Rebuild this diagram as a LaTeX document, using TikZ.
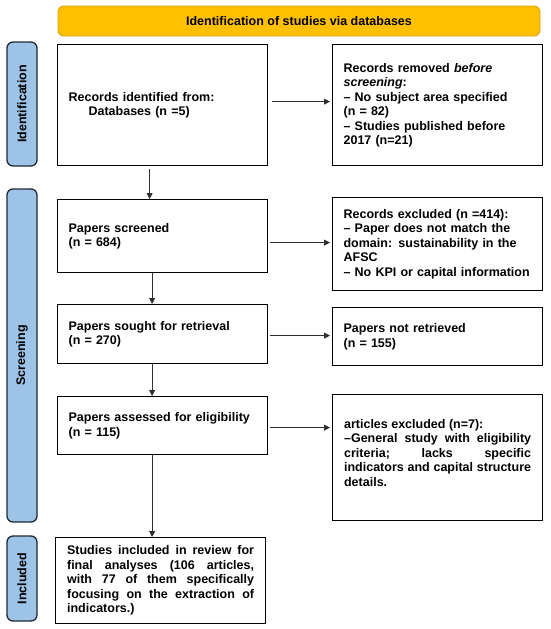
\documentclass[tikz,border=0pt]{standalone}
\usepackage{fontspec}
\setmainfont{Liberation Sans}
\usetikzlibrary{arrows.meta,positioning}
\definecolor{orangefill}{HTML}{FFC000}
\definecolor{orangeline}{HTML}{E0A000}
\definecolor{bluefill}{HTML}{9DC3E6}
\definecolor{blueline}{HTML}{1F2A33}
\definecolor{arrowcol}{HTML}{303030}
\begin{document}
\begin{tikzpicture}[x=1pt,y=-1pt,
  font=\fontsize{12.5}{14.5}\selectfont\bfseries,
  banner/.style={draw=orangeline,fill=orangefill,line width=0.9pt,rounded corners=6pt,
    minimum width=482pt,minimum height=30pt,inner sep=0pt},
  phase/.style={draw=blueline,fill=bluefill,line width=1.3pt,rounded corners=6pt,
    minimum height=30pt,inner sep=0pt,rotate=90},
  flowbox/.style={draw=black,line width=1.2pt,inner xsep=11pt,inner ysep=0pt,
    text width=188pt,align=left,anchor=north west},
  plainbox/.style={draw=black,line width=1.2pt,inner sep=0pt,minimum width=210pt,anchor=north west},
  jtext/.style={inner sep=0pt,text width=187pt,align=justify},
  arr/.style={draw=arrowcol,line width=0.8pt,-{Triangle[length=6pt,width=6pt]}}]
\useasboundingbox (0,0) rectangle (550,629);

% banner
\node[banner] (title) at (299,21) {Identification of studies via databases};

% phase labels
\node[phase,minimum width=124pt] (pid) at (22,104) {Identification};
\node[phase,minimum width=333pt] (psc) at (22,355.5) {Screening};
\node[phase,minimum width=85pt] (pin) at (22,578.5) {Included};

% left column
\node[flowbox,minimum height=121pt] (b1) at (57,44)
  {Records identified from:\\\hspace*{20pt}Databases (n =5)};
\node[flowbox,minimum height=73pt] (b2) at (57,199)
  {Papers screened\\(n = 684)};
\node[flowbox,minimum height=59pt] (b3) at (57,304)
  {Papers sought for retrieval\\(n = 270)};
\node[flowbox,minimum height=58pt] (b4) at (57,396)
  {Papers assessed for eligibility\\(n = 115)};
\node[plainbox,minimum height=86pt] (b5) at (55,537) {};
\node[jtext] (b5t) at (b5.center)
  {Studies included in review for\linebreak final analyses (106 articles,\linebreak with 77 of them specifically\linebreak focusing on the extraction of\linebreak indicators.)};

% right column
\node[flowbox,minimum height=121pt] (r1) at (332,44)
  {Records removed \textit{before}\\\textit{screening}:\\– No subject area specified\\(n = 82)\\– Studies published before\\2017 (n=21)};
\node[flowbox,minimum height=93pt] (r2) at (332,197)
  {Records excluded (n =414):\\– Paper does not match the\\domain: sustainability in the\\AFSC\\– No KPI or capital information};
\node[flowbox,minimum height=58pt] (r3) at (332,307)
  {Papers not retrieved\\(n = 155)};
\node[plainbox,minimum height=126pt] (r4) at (332,394) {};
\node[jtext] (r4t) at ([yshift=5pt]r4.center)
  {articles excluded (n=7):\newline –General study with eligibility\linebreak criteria;\hfill lacks\hfill specific\linebreak indicators and capital structure\linebreak details.};

% horizontal arrows
\draw[arr,shorten <=4pt,shorten >=2pt] ([yshift=3.5pt]b1.east) -- ([yshift=3.5pt]r1.west);
\draw[arr,shorten <=2pt,shorten >=2pt] ([yshift=-6.5pt]b2.east) -- ([yshift=1.5pt]r2.west);
\draw[arr,shorten <=2pt,shorten >=2pt] ([yshift=-1.5pt]b3.east) -- ([yshift=1pt]r3.west);
\draw[arr,shorten <=2pt,shorten >=2pt] ([yshift=-2pt]b4.east) -- ([yshift=30pt]r4.west);

% vertical arrows
\draw[arr,shorten <=3pt] ([xshift=-13pt]b1.south) -- ([xshift=-13pt]b2.north);
\draw[arr] ([xshift=-10.5pt]b2.south) -- ([xshift=-10.5pt]b3.north);
\draw[arr] ([xshift=-10.5pt]b3.south) -- ([xshift=-10.5pt]b4.north);
\draw[arr] ([xshift=-10.5pt]b4.south) -- ([xshift=-8.5pt]b5.north);
\end{tikzpicture}
\end{document}
